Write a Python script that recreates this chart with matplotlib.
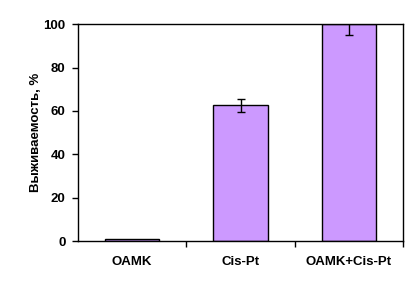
import numpy as np
import matplotlib.pyplot as plt

categories = ["OAMK", "Cis-Pt", "OAMK+Cis-Pt"]
survival = [0.8, 62.5, 100.0]
errors = [0.0, 3.2, 5.0]
yticks = [0, 20, 40, 60, 80, 100]

plt.rcParams['font.family'] = ['Liberation Sans', 'DejaVu Sans']

fig = plt.figure(figsize=(4.08, 2.87), dpi=100)
ax = fig.add_axes([0.191, 0.160, 0.797, 0.756])

x = np.arange(len(categories))
ax.bar(x, survival, width=0.5, color="#CC99FF", edgecolor="black", linewidth=1.0, zorder=2)
ax.errorbar(x[1:], survival[1:], yerr=errors[1:], fmt="none", ecolor="black",
            elinewidth=1.0, capsize=3, capthick=1.0, zorder=3)

ax.set_xlim(-0.5, 2.5)
ax.set_ylim(0, 100)
ax.set_yticks(yticks)
ax.set_yticklabels([str(v) for v in yticks], fontsize=9.5, fontweight="bold")
ax.set_xticks(x)
ax.set_xticklabels(categories, fontsize=9.5, fontweight="bold")
ax.tick_params(axis="x", length=0, pad=11)
ax.set_xticks([0.5, 1.5, 2.5], minor=True)
ax.tick_params(axis="x", which="minor", length=4, width=1.0, direction="out")
ax.tick_params(axis="y", length=4, width=1.0, direction="out", pad=5)

for s in ax.spines.values():
    s.set_linewidth(1.0)

ax.set_ylabel("Выживаемость, %", fontsize=9.5, fontweight="bold", labelpad=1)

fig.savefig("out.png", dpi=100)
